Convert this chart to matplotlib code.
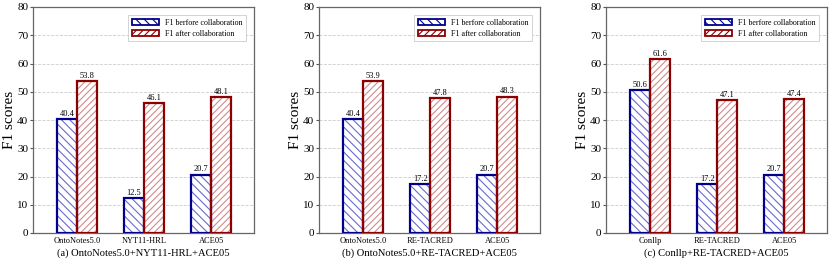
import matplotlib
matplotlib.use("Agg")
import matplotlib.pyplot as plt
from matplotlib.patches import Patch
import numpy as np

plt.rcParams['font.family'] = ['Liberation Serif', 'DejaVu Serif']
plt.rcParams['hatch.linewidth'] = 0.8

# data
cats_a = ["OntoNotes5.0", "NYT11-HRL", "ACE05"]
before_a = [40.4, 12.5, 20.7]
after_a = [53.8, 46.1, 48.1]

cats_b = ["OntoNotes5.0", "RE-TACRED", "ACE05"]
before_b = [40.4, 17.2, 20.7]
after_b = [53.9, 47.8, 48.3]

cats_c = ["Conllp", "RE-TACRED", "ACE05"]
before_c = [50.6, 17.2, 20.7]
after_c = [61.6, 47.1, 47.4]

captions = ["(a) OntoNotes5.0+NYT11-HRL+ACE05",
            "(b) OntoNotes5.0+RE-TACRED+ACE05",
            "(c) Conllp+RE-TACRED+ACE05"]

blue_edge, blue_hatch = "#00008b", "#6a6ad2"
red_edge, red_hatch = "#8b0000", "#d48a8a"

W, H = 830, 266
fig = plt.figure(figsize=(W / 100, H / 100), dpi=100)

lefts = [33, 319, 606]
bw = 0.3

panels = [(cats_a, before_a, after_a), (cats_b, before_b, after_b), (cats_c, before_c, after_c)]

for left, (cats, bef, aft), cap in zip(lefts, panels, captions):
    ax = fig.add_axes([left / W, 33 / H, 221 / W, 226 / H])
    x = np.arange(len(cats))
    for xs, vals, ec, hc, hatch in [(x - bw / 2, bef, blue_edge, blue_hatch, "\\\\\\\\"),
                                    (x + bw / 2, aft, red_edge, red_hatch, "/////")]:
        ax.bar(xs, vals, bw, facecolor="white", edgecolor=hc, hatch=hatch, linewidth=0, zorder=3)
        ax.bar(xs, vals, bw, facecolor="none", edgecolor=ec, linewidth=1.6, zorder=4)
        for xi, v in zip(xs, vals):
            ax.text(xi, v + 0.4, f"{v}", ha="center", va="bottom", fontsize=6, zorder=5)
    ax.set_xlim(-0.66, 2.64)
    ax.set_ylim(0, 80)
    ax.set_yticks(range(0, 81, 10))
    ax.tick_params(axis="y", labelsize=8, length=2.5, width=0.8, pad=1, color="#555555")
    ax.set_xticks(x)
    ax.set_xticklabels(cats, fontsize=6)
    ax.tick_params(axis="x", length=0, pad=3)
    ax.grid(axis="y", linestyle="--", color="#cccccc", linewidth=0.6, zorder=0)
    ax.set_axisbelow(True)
    for s in ax.spines.values():
        s.set_color("#666666")
        s.set_linewidth(0.9)
    ax.set_ylabel("F1 scores", fontsize=11, labelpad=1)
    handles = [Patch(facecolor="white", edgecolor=blue_edge, hatch="\\\\\\\\", linewidth=1.3),
               Patch(facecolor="white", edgecolor=red_edge, hatch="/////", linewidth=1.3)]
    leg = ax.legend(handles, ["F1 berfore collaboration", "F1 after collaboration"],
                    loc="upper right", fontsize=5.8, fancybox=False, framealpha=1,
                    edgecolor="#cccccc", handlelength=3.4, handleheight=0.9,
                    borderaxespad=1.0, borderpad=0.45, labelspacing=0.35, handletextpad=0.7)
    leg.get_frame().set_linewidth(0.6)
    fig.text((left + 110.5) / W, 13 / H, cap, ha="center", va="center", fontsize=7.6)

fig.savefig("out.png", dpi=100)
